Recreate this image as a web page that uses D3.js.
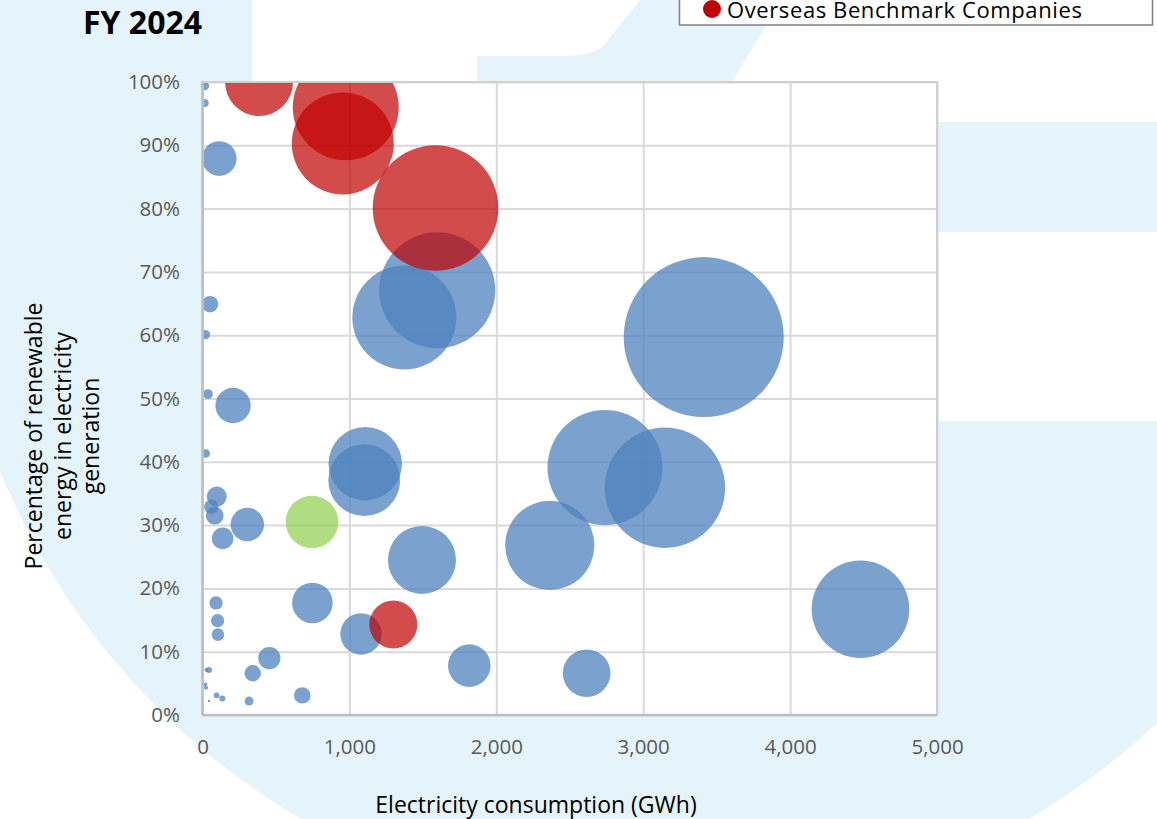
<!DOCTYPE html>
<html>
<head>
<meta charset="utf-8">
<script src="https://cdn.jsdelivr.net/npm/d3@7"></script>
<style>
  html, body { margin: 0; padding: 0; background: #ffffff; }
  svg { display: block; }
  text { font-family: "Open Sans", "Noto Sans", sans-serif; }
</style>
</head>
<body>
<svg id="chart" width="1157" height="819"></svg>
<script>
// ---- Data -------------------------------------------------------------
// Electricity consumption (GWh), renewable share (0-1) and bubble size per company
const peerConsumption = [15, 15, 114, 51, 20, 37, 208, 22, 97, 60, 83, 305, 137, 92, 103, 105,
  748, 1079, 1494, 1816, 455, 342, 679, 317, 96, 135, 44, 19, 24, 27, 44, 5,
  1108, 1101, 1374, 1598, 3412, 2740, 3148, 2364, 4479, 2615];
const peerRenewable = [0.994, 0.967, 0.879, 0.649, 0.601, 0.507, 0.489, 0.413, 0.345, 0.329, 0.315, 0.301, 0.279, 0.177, 0.149, 0.127,
  0.177, 0.128, 0.245, 0.078, 0.090, 0.066, 0.031, 0.022, 0.031, 0.026, 0.022, 0.048, 0.043, 0.071, 0.071, 0.065,
  0.397, 0.371, 0.628, 0.671, 0.597, 0.391, 0.359, 0.268, 0.167, 0.066];
const peerSize = [5, 4, 75, 17, 5.5, 6, 78, 4.6, 25, 13, 20, 70, 29, 11, 11, 10,
  103, 107, 289, 113, 31, 17, 17, 5, 2, 2.3, 0.4, 1, 1, 1, 2.3, 0.25,
  337, 322, 676, 841, 1600, 827, 906, 497, 595, 142];

const ownConsumption = [745];
const ownRenewable = [0.305];
const ownSize = [173];

const overseasConsumption = [385, 975, 955, 1586, 1299];
const overseasRenewable = [1.0, 0.96, 0.903, 0.801, 0.143];
const overseasSize = [289, 702, 650, 986, 144];

const xTicks = [0, 1000, 2000, 3000, 4000, 5000];
const yTicks = [0, 0.1, 0.2, 0.3, 0.4, 0.5, 0.6, 0.7, 0.8, 0.9, 1.0];

const titleText = "FY 2024";
const xTitle = "Electricity consumption (GWh)";
const yTitleLines = ["Percentage of renewable", "energy in electricity", "generation"];
const legendLabel = "Overseas Benchmark Companies";

// ---- Layout -----------------------------------------------------------
const W = 1157, H = 819;
const plot = { left: 202.5, right: 937, top: 82, bottom: 715 };
const BG = "#e5f4fb";

const svg = d3.select("#chart");

// Background emblem: large pale disc with white cut-outs
const bg = svg.append("g");
bg.append("rect").attr("width", W).attr("height", H).attr("fill", "#fff");
bg.append("circle").attr("cx", 665).attr("cy", 200).attr("r", 718).attr("fill", BG);
bg.append("path").attr("fill", "#fff")
  .attr("d", "M252,0 L640,0 L603,46 Q592,56 565,56 L477,56 L477,90 L252,90 Z");
bg.append("path").attr("fill", "#fff")
  .attr("d", "M782,0 L1157,0 L1157,122 L937,122 L937,90 L727,90 Z");
bg.append("rect").attr("fill", "#fff")
  .attr("x", 930).attr("y", 232).attr("width", W - 930).attr("height", 421 - 232);

// Scales
const x = d3.scaleLinear().domain([0, 5000]).range([plot.left, plot.right]);
const y = d3.scaleLinear().domain([0, 1]).range([plot.bottom, plot.top]);
const r = d3.scaleSqrt().domain([0, 1600]).range([0, 80]);

// Plot area
svg.append("rect")
  .attr("x", plot.left).attr("y", plot.top)
  .attr("width", plot.right - plot.left).attr("height", plot.bottom - plot.top)
  .attr("fill", "#fff");

// Gridlines
const gridColor = "#d9d9d9";
svg.append("g")
  .attr("transform", `translate(0,${plot.bottom})`)
  .call(d3.axisBottom(x).tickValues(xTicks).tickSize(-(plot.bottom - plot.top)).tickFormat(""))
  .call(g => g.select(".domain").remove())
  .call(g => g.selectAll("line").attr("stroke", gridColor).attr("stroke-width", 2));
svg.append("g")
  .attr("transform", `translate(${plot.left},0)`)
  .call(d3.axisLeft(y).tickValues(yTicks).tickSize(-(plot.right - plot.left)).tickFormat(""))
  .call(g => g.select(".domain").remove())
  .call(g => g.selectAll("line").attr("stroke", gridColor).attr("stroke-width", 2));

// Bubbles, clipped to the plot area
svg.append("clipPath").attr("id", "plotClip")
  .append("rect")
  .attr("x", plot.left).attr("y", plot.top)
  .attr("width", plot.right - plot.left).attr("height", plot.bottom - plot.top);

const bubbles = svg.append("g").attr("clip-path", "url(#plotClip)");

function drawSeries(xs, ys, ss, fill, opacity) {
  const rows = xs.map((v, i) => ({ x: v, y: ys[i], s: ss[i] }));
  bubbles.append("g")
    .selectAll("circle")
    .data(rows)
    .join("circle")
    .attr("cx", d => x(d.x))
    .attr("cy", d => y(d.y))
    .attr("r", d => r(d.s))
    .attr("fill", fill)
    .attr("fill-opacity", opacity);
}
drawSeries(peerConsumption, peerRenewable, peerSize, "#4f81bd", 0.75);
drawSeries(ownConsumption, ownRenewable, ownSize, "#92d050", 0.72);
drawSeries(overseasConsumption, overseasRenewable, overseasSize, "#c00000", 0.7);

// Plot border
svg.append("rect")
  .attr("x", plot.left).attr("y", plot.top)
  .attr("width", plot.right - plot.left).attr("height", plot.bottom - plot.top)
  .attr("fill", "none").attr("stroke", "#d0d0d0").attr("stroke-width", 2);
svg.append("line")
  .attr("x1", plot.left).attr("x2", plot.left).attr("y1", plot.top).attr("y2", plot.bottom)
  .attr("stroke", "#bfbfbf").attr("stroke-width", 2.5);
svg.append("line")
  .attr("x1", plot.left).attr("x2", plot.right).attr("y1", plot.bottom).attr("y2", plot.bottom)
  .attr("stroke", "#bfbfbf").attr("stroke-width", 2.5);

// Axes labels
const tickColor = "#595959";
const tickFont = 20.5;
svg.append("g")
  .attr("transform", `translate(0,${plot.bottom})`)
  .call(d3.axisBottom(x).tickValues(xTicks).tickSize(0).tickPadding(24).tickFormat(d3.format(",")))
  .call(g => g.select(".domain").remove())
  .call(g => g.selectAll("text").attr("fill", tickColor).style("font-size", tickFont + "px")
    .style("font-family", "'Open Sans', sans-serif"));
svg.append("g")
  .attr("transform", `translate(${plot.left},0)`)
  .call(d3.axisLeft(y).tickValues(yTicks).tickSize(0).tickPadding(22.5).tickFormat(d3.format(".0%")))
  .call(g => g.select(".domain").remove())
  .call(g => g.selectAll("text").attr("fill", tickColor).style("font-size", tickFont + "px")
    .style("font-family", "'Open Sans', sans-serif"));

// Axis titles
svg.append("text")
  .attr("x", 536).attr("y", 813)
  .attr("text-anchor", "middle")
  .attr("fill", "#000")
  .style("font-size", "23px")
  .text(xTitle);

const yTitle = svg.append("text")
  .attr("transform", "translate(42,436) rotate(-90)")
  .attr("text-anchor", "middle")
  .attr("fill", "#000")
  .style("font-size", "23px");
yTitle.selectAll("tspan")
  .data(yTitleLines)
  .join("tspan")
  .attr("x", 0)
  .attr("y", (d, i) => i * 28.5)
  .text(d => d);

// Chart title
svg.append("text")
  .attr("x", 83).attr("y", 34)
  .attr("fill", "#000")
  .style("font-size", "32px")
  .style("font-weight", "700")
  .text(titleText);

// Legend (box runs off the top edge)
const legend = svg.append("g");
legend.append("rect")
  .attr("x", 679.5).attr("y", -60)
  .attr("width", 473).attr("height", 85)
  .attr("fill", "#fff").attr("stroke", "#7f7f7f").attr("stroke-width", 1.5);
legend.append("circle")
  .attr("cx", 712).attr("cy", 9).attr("r", 9)
  .attr("fill", "#c00000");
legend.append("text")
  .attr("x", 727).attr("y", 18)
  .attr("fill", "#000")
  .style("font-size", "22px")
  .style("letter-spacing", "0.6px")
  .text(legendLabel);
</script>
</body>
</html>
